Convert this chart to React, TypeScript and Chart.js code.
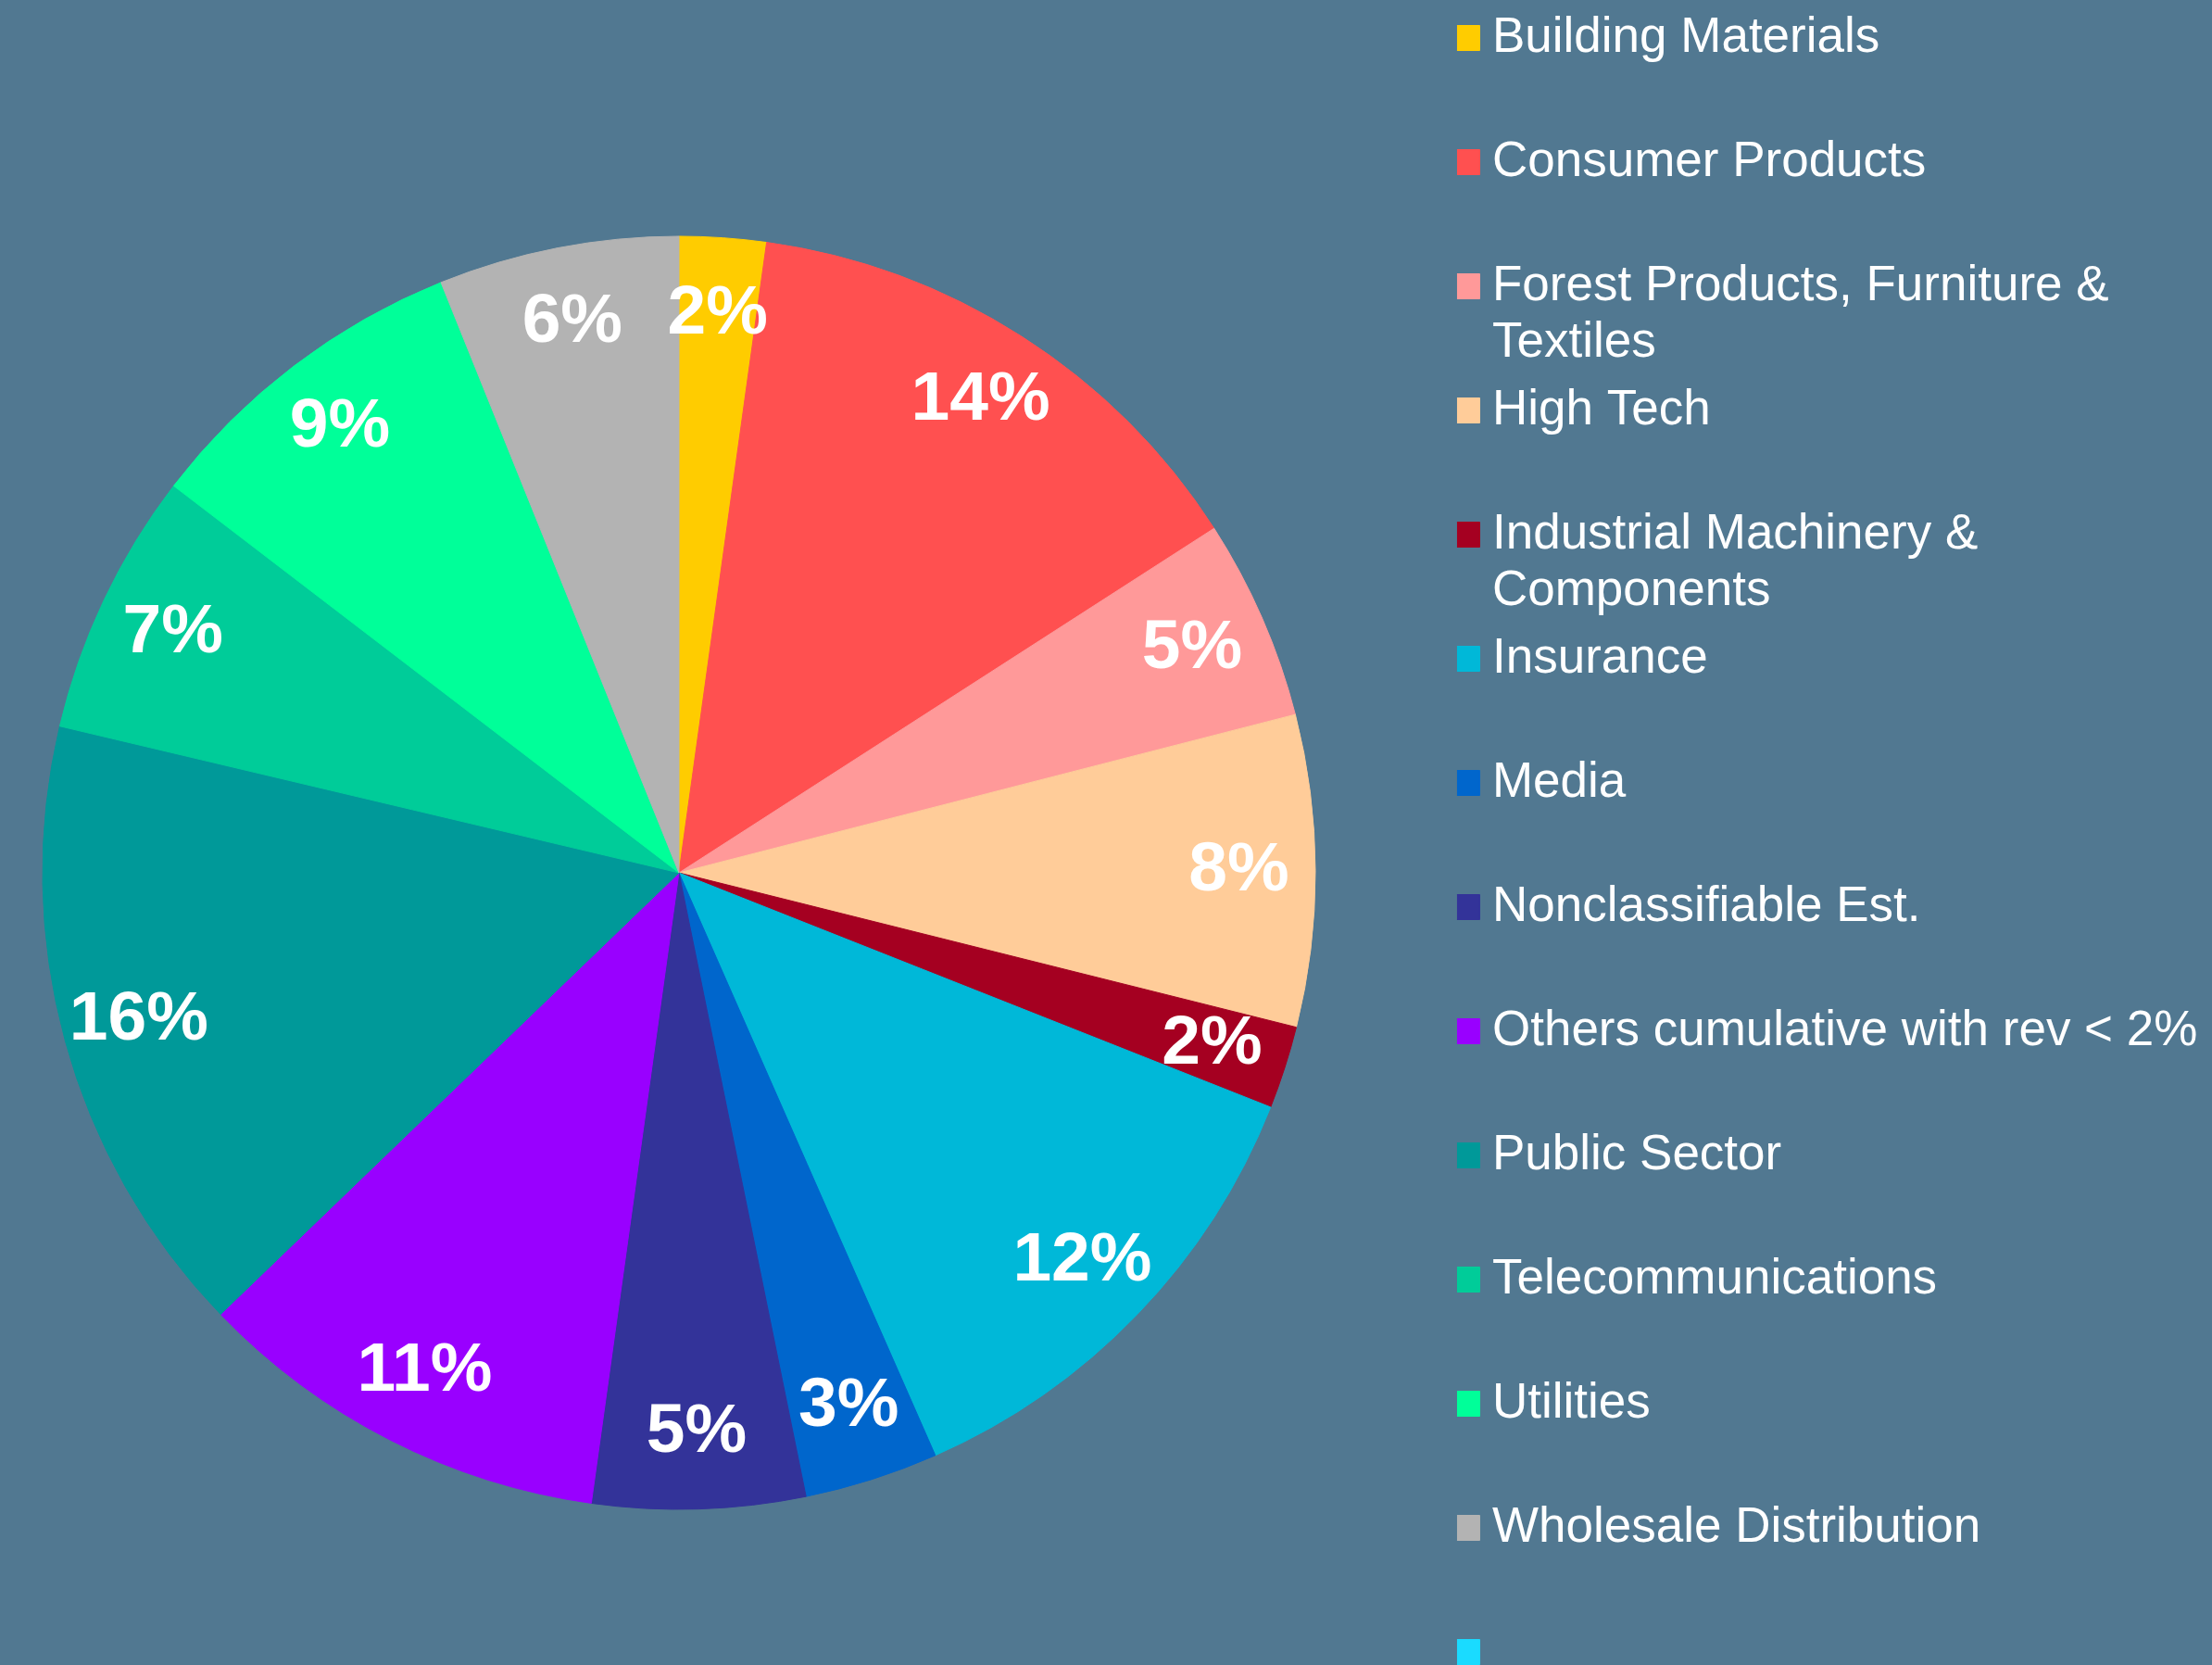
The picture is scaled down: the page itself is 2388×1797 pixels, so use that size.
import React, { useEffect, useRef } from 'react';
import { Chart, registerables } from 'chart.js';

Chart.register(...registerables);

// Categories ("\n" marks where the legend text wraps)
const categories: string[] = [
  'Building Materials',
  'Consumer Products',
  'Forest Products, Furniture &\nTextiles',
  'High Tech',
  'Industrial Machinery &\nComponents',
  'Insurance',
  'Media',
  'Nonclassifiable Est.',
  'Others cumulative with rev < 2%',
  'Public Sector',
  'Telecommunications',
  'Utilities',
  'Wholesale Distribution',
  '',
];

// Revenue share per category (%)
const shares: number[] = [2.2, 13.7, 5.1, 7.9, 2.1, 12.4, 3.4, 5.4, 10.6, 15.9, 6.7, 8.5, 6.1, 0];

const sliceColors: string[] = [
  '#FFCC00', '#FF5050', '#FF9999', '#FFCC99', '#A50021', '#00B8D8', '#0066CC',
  '#333399', '#9900FF', '#009999', '#00CC99', '#00FF99', '#B3B3B3', '#1ADBFF',
];

const BG = '#517891';

const legendLines = categories.map((c) => {
  if (c === '') return [''];
  const parts = c.split('\n');
  return parts.length === 1 ? [parts[0], ''] : parts;
});

const pctLabels = {
  id: 'pctLabels',
  afterDatasetsDraw(chart: any) {
    const ctx = chart.ctx;
    const meta = chart.getDatasetMeta(0);
    const values = chart.data.datasets[0].data as number[];
    const total = values.reduce((a, b) => a + b, 0);
    ctx.save();
    ctx.font = 'bold 75px "Liberation Sans", Arial, sans-serif';
    ctx.fillStyle = '#FFFFFF';
    ctx.textAlign = 'center';
    ctx.textBaseline = 'middle';
    meta.data.forEach((arc: any, i: number) => {
      const v = values[i];
      if (!v) return;
      const { x, y, startAngle, endAngle, outerRadius } = arc.getProps(
        ['x', 'y', 'startAngle', 'endAngle', 'outerRadius'],
        true
      );
      const mid = (startAngle + endAngle) / 2;
      const r = outerRadius * 0.88;
      ctx.fillText(Math.round((v / total) * 100) + '%', x + Math.cos(mid) * r, y + Math.sin(mid) * r);
    });
    ctx.restore();
  },
};

export default function App() {
  const ref = useRef<HTMLCanvasElement | null>(null);

  useEffect(() => {
    document.body.style.margin = '0';
    document.body.style.background = BG;
    const canvas = ref.current;
    if (!canvas) return;
    const chart = new Chart(canvas, {
      type: 'pie',
      data: {
        labels: legendLines as any,
        datasets: [
          {
            data: shares,
            backgroundColor: sliceColors,
            borderColor: sliceColors,
            borderWidth: 1,
            radius: 687,
          } as any,
        ],
      },
      options: {
        responsive: false,
        animation: false,
        layout: { padding: { left: 0, right: 5.6, top: 4, bottom: 0 } },
        plugins: {
          tooltip: { enabled: false },
          legend: {
            position: 'right',
            align: 'start',
            labels: {
              color: '#FFFFFF',
              font: { family: '"Liberation Sans", Arial, sans-serif', size: 53, lineHeight: 1.1651 },
              usePointStyle: true,
              pointStyle: 'rect',
              boxWidth: 1,
              boxHeight: 27,
              padding: 10.5,
            },
          },
        },
      },
      plugins: [pctLabels],
    });
    return () => chart.destroy();
  }, []);

  return (
    <div
      style={{
        position: 'fixed',
        left: 0,
        top: 0,
        width: 2388,
        height: 1797,
        overflow: 'hidden',
        background: BG,
      }}
    >
      <canvas
        ref={ref}
        width={2495}
        height={1880}
        style={{ position: 'absolute', left: -107, top: 0, display: 'block', width: 2495, height: 1880 }}
      />
    </div>
  );
}
